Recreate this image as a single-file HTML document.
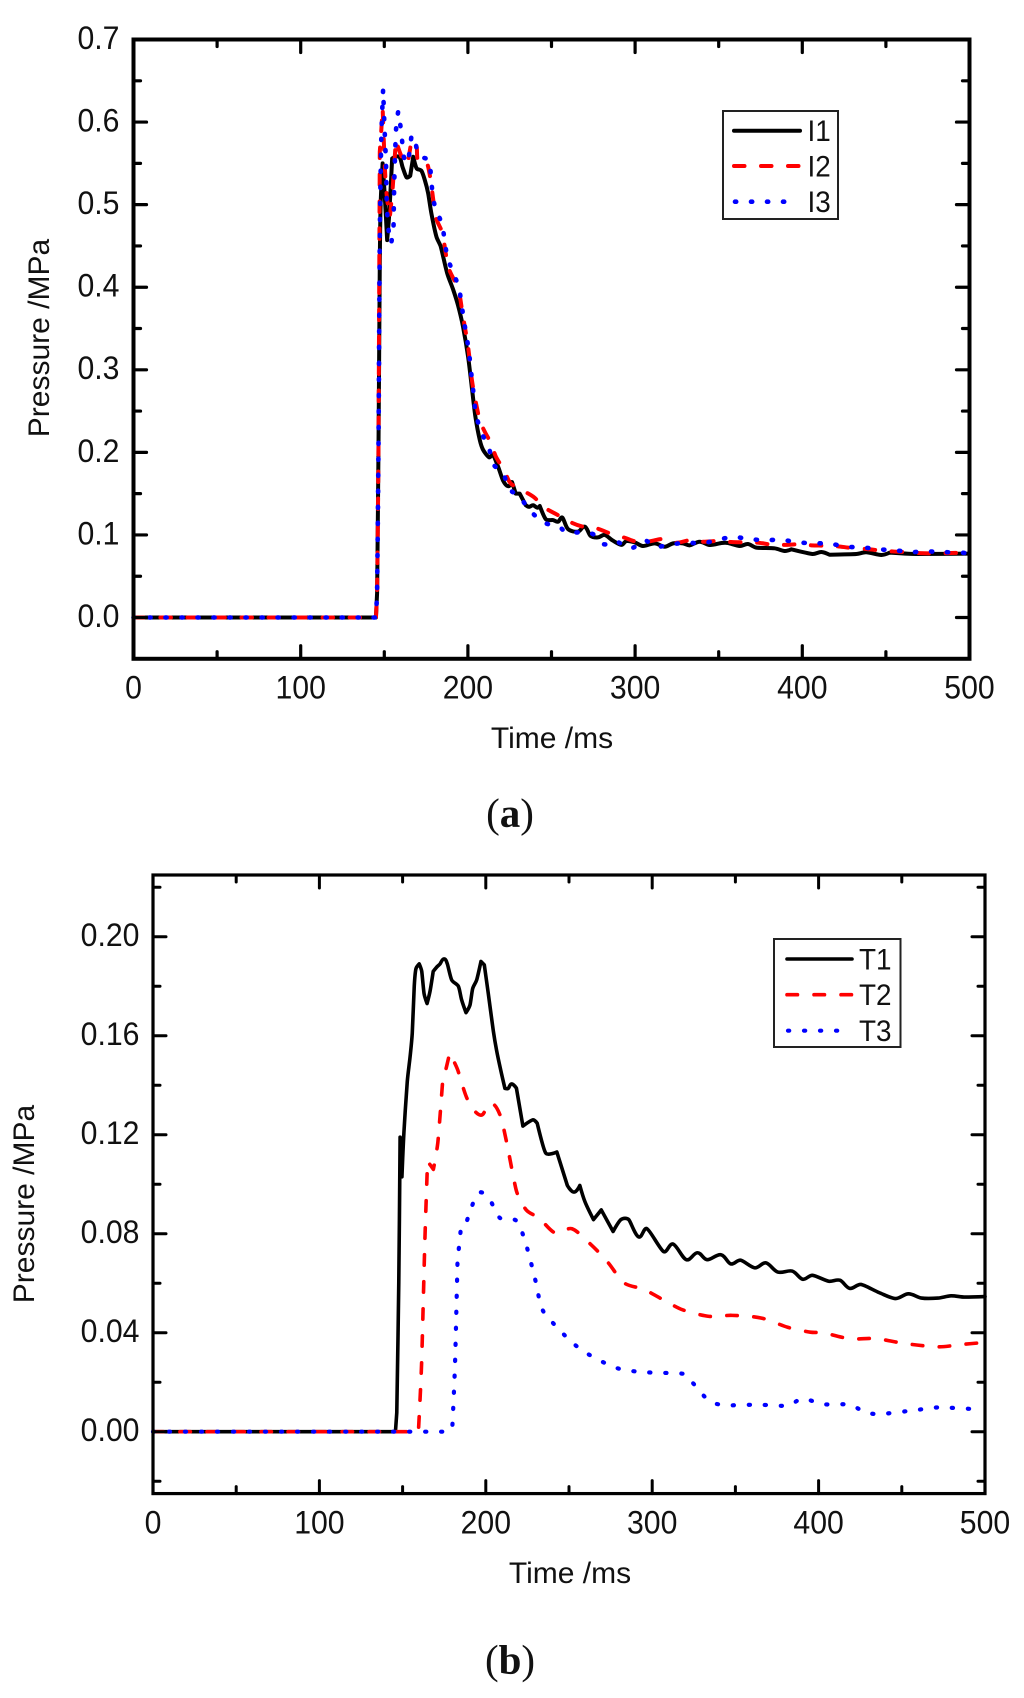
<!DOCTYPE html>
<html lang="en">
<head>
<meta charset="utf-8">
<title>Pressure vs time</title>
<style>
html,body{margin:0;padding:0;background:#fff;}
svg{display:block;}
text{font-family:"Liberation Sans",sans-serif;fill:#111;}
.cap{font-family:"Liberation Serif",serif;font-size:41px;fill:#111;}
</style>
</head>
<body>
<svg id="fig" xmlns="http://www.w3.org/2000/svg" width="1024" height="1698" viewBox="0 0 1024 1698">
<rect x="0" y="0" width="1024" height="1698" fill="#fff"/>
<g id="panelA"></g>
<g id="panelB"></g>
<text class="cap" x="510" y="827" text-anchor="middle">(<tspan font-weight="bold">a</tspan>)</text>
<text class="cap" x="510" y="1673.5" text-anchor="middle">(<tspan font-weight="bold">b</tspan>)</text>
</svg>
<script>
// ---- Chart data ----
const i1Times=[0,145,145.7,146.5,147.3,147.8,149,150.3,151.7,153,154.7,158.9,161,163.3,165.5,167.3,169.3,172.2,174.2,176.2,178.2,181.2,183.8,187.6,191.2,194.1,197.1,200.1,202.5,204.5,207.1,209.1,212.7,215,218,221,224,226.4,228.6,231,234.6,236.6,239,241.4,243,246.6,250.9,253.9,256.5,259.9,265.9,269.9,273.3,277.8,281.8,286.8,291.8,294.8,299.8,304.7,311.7,317.7,322.7,328.6,332.6,338.6,344.6,351.6,355.6,362.6,367.5,372.5,383.4,389.4,393.4,406.1,411.4,416.3,432.3,438.2,447.2,452.2,468.1,500];
const i1Values=[0,0,0.03,0.2,0.43,0.5,0.55,0.51,0.457,0.49,0.556,0.558,0.545,0.533,0.535,0.558,0.544,0.541,0.53,0.514,0.489,0.461,0.449,0.417,0.397,0.378,0.352,0.316,0.276,0.243,0.215,0.203,0.194,0.197,0.183,0.166,0.159,0.164,0.15,0.15,0.136,0.134,0.136,0.133,0.135,0.119,0.118,0.116,0.121,0.107,0.104,0.11,0.099,0.097,0.1,0.093,0.088,0.0926,0.091,0.0866,0.0898,0.0857,0.0898,0.0898,0.0874,0.0918,0.0878,0.0902,0.0902,0.0866,0.089,0.0846,0.0838,0.0805,0.0826,0.0769,0.0793,0.076,0.0769,0.079,0.0757,0.0785,0.0769,0.0773];
const i2Times=[0,145,145.7,146.5,147.3,148.2,149,150.3,151.5,153.3,155,156.9,159,161.9,164,166.3,169.3,170.2,175.3,177.7,180.8,184.8,188.2,193.2,195.2,196.8,200.1,202.1,204.1,207.1,210.1,214.1,216.7,222,225.6,233,239.6,246,253.9,261.9,268.9,276.9,284.8,293.8,300.8,308.7,316.7,324.7,332.6,340.6,349.6,357.6,364.5,373.5,380.5,389.4,397.4,405.4,413.3,421.3,428.3,438.2,444.2,454.2,461.1,470.1,477.1,486,500];
const i2Values=[0,0,0.03,0.2,0.564,0.59,0.617,0.546,0.51,0.485,0.52,0.578,0.565,0.55,0.55,0.578,0.571,0.552,0.551,0.53,0.485,0.465,0.425,0.403,0.389,0.368,0.328,0.292,0.267,0.239,0.225,0.21,0.195,0.177,0.1625,0.1536,0.1455,0.133,0.124,0.115,0.11,0.108,0.102,0.0966,0.0918,0.0923,0.095,0.0906,0.0935,0.0918,0.0927,0.0914,0.091,0.0906,0.0886,0.088,0.0886,0.0874,0.087,0.0862,0.0845,0.083,0.0817,0.08,0.0793,0.078,0.0777,0.078,0.0785];
const i3Times=[0,145,145.7,146.5,147.3,148.2,149.3,150,151,151.5,152.5,154.1,155.5,156,157,158.3,160,161.5,163,164.5,166.3,168.5,170.5,176.8,178,180,184.6,187.6,191.2,194.6,196.2,197.6,199.2,200.7,201.6,202.8,203.7,205.1,208.1,212.5,215,221,224.6,231,237.4,245.5,254.5,258.9,266.9,274.8,281.4,288.2,297.4,305.3,312.1,321.7,330.7,340.2,349.6,359.1,368.5,378.5,387.8,397.6,406.9,416.3,426.3,435.6,445.4,455.2,464.7,474.5,484,500];
const i3Values=[0,0,0.03,0.2,0.46,0.58,0.64,0.6,0.55,0.5,0.47,0.453,0.47,0.53,0.59,0.613,0.59,0.56,0.55,0.555,0.584,0.578,0.56,0.553,0.53,0.5,0.475,0.437,0.418,0.399,0.379,0.36,0.34,0.321,0.302,0.283,0.263,0.244,0.224,0.206,0.186,0.175,0.156,0.146,0.129,0.115,0.11,0.103,0.103,0.101,0.0887,0.0927,0.0838,0.0935,0.0857,0.0886,0.0906,0.0899,0.0942,0.0975,0.0947,0.0939,0.0939,0.091,0.0899,0.0894,0.0857,0.085,0.0826,0.0814,0.0793,0.08,0.0793,0.078];

const t1Times=[0,145.7,146.5,147.7,148.5,149.6,150.8,152.8,154.5,155.8,157,158,160,161.5,162.9,164.7,166.5,168.4,170.9,172.5,174.9,176.9,179.5,183.5,185.5,188.1,190.5,192.1,194.5,197.1,199.1,201.5,204.5,206.5,209,211.5,213.5,215.5,218.4,222.3,228.2,230.9,236,242.7,249,253,256.5,259.6,264.7,269.4,276.5,281.2,285.9,291.8,296.9,306.8,312.6,320.5,327.2,333,341.3,347.2,353.1,361.7,368.4,375.5,384.1,390.4,396.3,406.1,412.8,418.7,425.4,436.4,446.2,454,461.9,471.7,479.6,487.4,500];
const t1Values=[0,0,0.0077,0.06,0.119,0.103,0.121,0.1414,0.1515,0.161,0.18,0.187,0.189,0.186,0.177,0.173,0.178,0.186,0.188,0.189,0.191,0.189,0.1825,0.18,0.1744,0.1693,0.1724,0.179,0.1825,0.19,0.1886,0.177,0.162,0.154,0.146,0.1387,0.1387,0.1405,0.1388,0.1235,0.126,0.1246,0.1126,0.113,0.0995,0.0968,0.0995,0.0929,0.0857,0.0896,0.0809,0.0857,0.0857,0.0787,0.082,0.0728,0.0758,0.0695,0.0723,0.0695,0.0715,0.0678,0.0693,0.0662,0.0682,0.0645,0.0649,0.0616,0.0632,0.0608,0.0612,0.0579,0.0595,0.0562,0.0538,0.0557,0.054,0.054,0.0549,0.0544,0.0546];
const t2Times=[0,159.5,161.4,163.4,165,168.5,171.2,174,176.4,178.3,183,188.9,196.8,202.7,208.6,212.5,218.4,224.3,232.1,242,251.8,263.5,273.4,283.2,295,308.7,318.5,334.2,348,365.7,381.4,395.1,403,418.7,434.4,452.1,471.7,485.5,500];
const t2Values=[0,0,0.0273,0.0776,0.1093,0.106,0.117,0.141,0.1475,0.153,0.1464,0.1344,0.1279,0.1327,0.1279,0.117,0.0973,0.0896,0.0863,0.0802,0.082,0.0754,0.0684,0.0601,0.0575,0.0525,0.0492,0.0466,0.047,0.0459,0.0422,0.0402,0.04,0.0376,0.0376,0.0356,0.0343,0.0352,0.0361];
const t3Times=[0,178,179.9,181.5,183,185,187.7,190.9,196,202.7,208.6,218.4,224.3,230.2,234.1,243.9,251.8,261.6,279.3,296.9,318.5,324.4,334.2,344.1,363.7,381.4,390.4,403,418.7,428.5,438.3,458,471.7,491.4];
const t3Values=[0,0,0.002,0.0273,0.0689,0.082,0.083,0.0896,0.0966,0.0933,0.0863,0.0852,0.0754,0.0601,0.0492,0.0415,0.0361,0.0313,0.0256,0.024,0.0234,0.0197,0.0125,0.0107,0.0109,0.0105,0.0133,0.0111,0.0109,0.0077,0.0072,0.0087,0.0098,0.0092];

const xTickLabels=['0','100','200','300','400','500'];
const yTickLabelsA=['0.0','0.1','0.2','0.3','0.4','0.5','0.6','0.7'];
const yTickLabelsB=['0.00','0.04','0.08','0.12','0.16','0.20'];
const legendLabelsA=['I1','I2','I3'];
const legendLabelsB=['T1','T2','T3'];

// ---- Drawing ----
const NS='http://www.w3.org/2000/svg';
function make(parent,tag,attrs){
  const el=document.createElementNS(NS,tag);
  for(const k in attrs){el.setAttribute(k,attrs[k]);}
  parent.appendChild(el);
  return el;
}
const lineStyles=[
  {color:'#000',dash:null,cap:'round'},
  {color:'#f00',dash:'10.5 16.5',cap:'round'},
  {color:'#00f',dash:'1.2 14.8',cap:'round'}
];
// Smooth path; points joining very unequal segments or sharp reversals stay as corners.
function smoothPath(pts){
  const n=pts.length;
  const seg=i=>Math.hypot(pts[i+1][0]-pts[i][0],pts[i+1][1]-pts[i][1]);
  const handle=i=>{
    if(i===0||i===n-1){return [0,0];}
    const s0=seg(i-1),s1=seg(i);
    if(!s0||!s1||Math.max(s0,s1)/Math.min(s0,s1)>3){return [0,0];}
    const a=pts[i-1],p=pts[i],b=pts[i+1];
    const dot=((p[0]-a[0])*(b[0]-p[0])+(p[1]-a[1])*(b[1]-p[1]))/(s0*s1);
    if(dot<-0.3){return [0,0];}
    const dx=b[0]-a[0],dy=b[1]-a[1],m=Math.hypot(dx,dy)||1;
    const h=Math.min(s0,s1)/3;
    return [dx/m*h,dy/m*h];
  };
  let d='M'+pts[0][0].toFixed(2)+' '+pts[0][1].toFixed(2);
  for(let i=0;i<n-1;i++){
    const p=pts[i],q=pts[i+1],u=handle(i),w=handle(i+1);
    d+=' C'+(p[0]+u[0]).toFixed(2)+' '+(p[1]+u[1]).toFixed(2)+' '+(q[0]-w[0]).toFixed(2)+' '+(q[1]-w[1]).toFixed(2)+' '+q[0].toFixed(2)+' '+q[1].toFixed(2);
  }
  return d;
}
function drawPanel(g,cfg){
  const sx=t=>cfg.left+(t-cfg.xMin)*(cfg.right-cfg.left)/(cfg.xMax-cfg.xMin);
  const sy=p=>cfg.y0-p*cfg.yScale;
  const top=cfg.top,bottom=sy(cfg.yBottom);
  const tick=(x1,y1,x2,y2,name)=>{
    const el=make(g,'line',{x1:x1,y1:y1,x2:x2,y2:y2,stroke:'#000','stroke-width':cfg.tickW,'stroke-linecap':'round'});
    
    
  };
  const label=(x,y,str,anchor,size,sc)=>make(g,'text',{x:0,y:0,'text-anchor':anchor,'font-size':size,transform:'translate('+x+' '+y+') scale('+sc+' 1)'});
  cfg.series.forEach((s,i)=>{
    const st=lineStyles[i];
    const d=smoothPath(s.t.map((t,j)=>[sx(t),sy(s.v[j])]));
    const attrs={d:d,fill:'none',stroke:st.color,'stroke-width':i===2?cfg.lineW+0.6:cfg.lineW,'stroke-linejoin':'round','stroke-linecap':st.cap};
    if(st.dash){attrs['stroke-dasharray']=st.dash;}
    const el=make(g,'path',attrs);
    
    
  });
  xTickLabels.forEach((lab,i)=>{
    const t=Number(lab),x=sx(t);
    tick(x,bottom,x,bottom-13,'x-major-tick-'+lab);
    tick(x,top,x,top+13,'x-major-tick-top-'+lab);
    const tx=label(x,cfg.xLabelY,lab,'middle',cfg.tickFont,0.93);
    tx.textContent=lab;
    
    
    if(i<xTickLabels.length-1){
      const m=sx(t+50);
      tick(m,bottom,m,bottom-7,'x-minor-tick');
      tick(m,top,m,top+7,'x-minor-tick-top');
    }
  });
  cfg.yLabels.forEach(lab=>{
    const p=Number(lab),y=sy(p);
    tick(cfg.left,y,cfg.left+13,y,'y-major-tick-'+lab);
    tick(cfg.right,y,cfg.right-13,y,'y-major-tick-right-'+lab);
    const tx=label(cfg.yLabelX,y+9.4,lab,'end',cfg.tickFont,0.93);
    tx.textContent=lab;
    
    
  });
  cfg.yMinor.forEach(p=>{
    const y=sy(p);
    tick(cfg.left,y,cfg.left+7,y,'y-minor-tick');
    tick(cfg.right,y,cfg.right-7,y,'y-minor-tick-right');
  });
  const frame=make(g,'rect',{x:cfg.left,y:top,width:cfg.right-cfg.left,height:bottom-top,fill:'none',stroke:'#000','stroke-width':cfg.frameW});
  
  
  const xt=make(g,'text',{x:cfg.xTitle[0],y:cfg.xTitle[1],'text-anchor':'middle','font-size':cfg.titleFont});
  xt.textContent='Time /ms';
  
  
  const yt=make(g,'text',{x:0,y:0,'text-anchor':'middle','font-size':cfg.titleFont,transform:'translate('+cfg.yTitle[0]+' '+cfg.yTitle[1]+') rotate(-90)'});
  yt.textContent='Pressure /MPa';
  
  
  const L=cfg.legend;
  const box=make(g,'rect',{x:L.x,y:L.y,width:L.w,height:L.h,fill:'#fff',stroke:'#222','stroke-width':2});
  
  
  L.labels.forEach((lab,i)=>{
    const st=lineStyles[i],y=L.rows[i];
    const x1=i===2?L.sx1+1:L.sx1;
    const x2=i===2?x1+49.5:L.sx2;
    const attrs={x1:x1,y1:y,x2:x2,y2:y,stroke:st.color,'stroke-width':i===2?cfg.lineW+0.6:cfg.lineW,'stroke-linecap':st.cap};
    if(st.dash){attrs['stroke-dasharray']=st.dash;}
    const ln=make(g,'line',attrs);
    
    
    const tx=make(g,'text',{x:0,y:0,'font-size':L.font,transform:'translate('+L.tx+' '+(y+10.5)+') scale(0.93 1)'});
    tx.textContent=lab;
    
    
  });
}
drawPanel(document.getElementById('panelA'),{
  left:133.5,right:969.5,top:39.5,y0:617.5,yScale:825.7,yBottom:-0.05,xMin:0,xMax:500,
  tickW:3.2,frameW:4,lineW:4,tickFont:32.5,titleFont:30,
  xLabelY:698.4,yLabelX:119.5,xTitle:[552,748],yTitle:[49,338],
  yLabels:yTickLabelsA,yMinor:[-0.05,0.05,0.15,0.25,0.35,0.45,0.55,0.65],
  series:[{name:'I1',t:i1Times,v:i1Values},{name:'I2',t:i2Times,v:i2Values},{name:'I3',t:i3Times,v:i3Values}],
  legend:{x:723,y:111,w:115,h:108,sx1:734,sx2:800,tx:807.5,font:30,rows:[130.7,166,201.7],labels:legendLabelsA}
});
drawPanel(document.getElementById('panelB'),{
  left:153,right:985,top:875,y0:1431.7,yScale:2475,yBottom:-0.025,xMin:0,xMax:500,
  tickW:3,frameW:3.2,lineW:3.6,tickFont:32.5,titleFont:30,
  xLabelY:1533.4,yLabelX:139.5,xTitle:[570,1583],yTitle:[34,1204],
  yLabels:yTickLabelsB,yMinor:[-0.02,0.02,0.06,0.10,0.14,0.18,0.22],
  series:[{name:'T1',t:t1Times,v:t1Values},{name:'T2',t:t2Times,v:t2Values},{name:'T3',t:t3Times,v:t3Values}],
  legend:{x:774,y:939,w:126.5,h:108,sx1:787,sx2:852,tx:859,font:30,rows:[959,994.7,1030.7],labels:legendLabelsB}
});
</script>
</body>
</html>
